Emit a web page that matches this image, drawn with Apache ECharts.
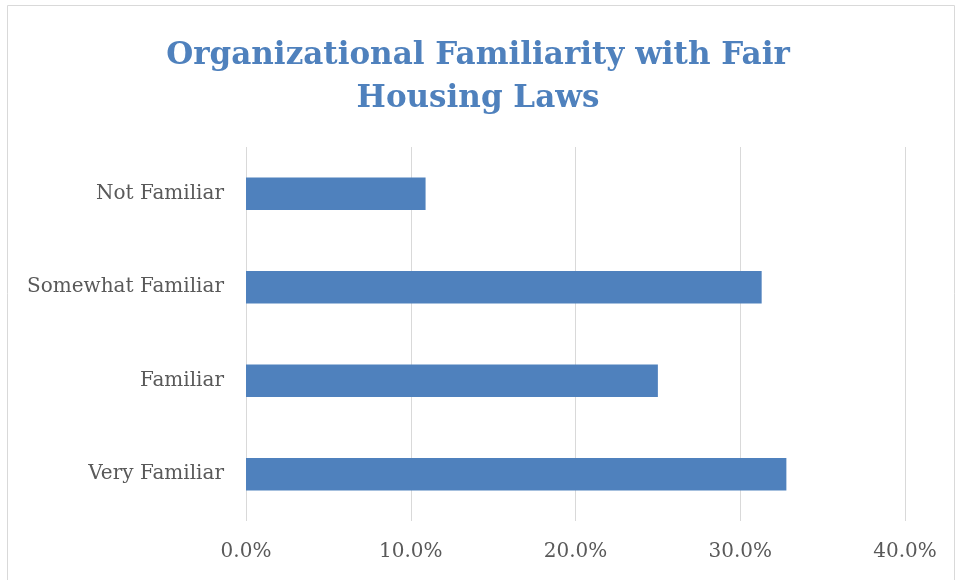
<!DOCTYPE html>
<html>
<head>
<meta charset="utf-8">
<script src="https://cdn.jsdelivr.net/npm/echarts@6/dist/echarts.min.js"></script>
<style>
  html, body { margin: 0; padding: 0; background: #fff; }
  #chart { width: 956px; height: 580px; }
</style>
</head>
<body>
<div id="chart"></div>
<script>
// categories bottom-to-top as ECharts draws a category y axis
const categories = ['Very Familiar', 'Familiar', 'Somewhat Familiar', 'Not Familiar']
const shares = [32.8, 25.0, 31.3, 10.9]
const tickMax = 40

const chart = echarts.init(document.getElementById('chart'))
const serif = 'DejaVu Serif'

chart.setOption({
  animation: false,
  title: {
    text: 'Organizational Familiarity with Fair\nHousing Laws',
    left: 'center',
    top: 29,
    textStyle: {
      fontFamily: serif,
      fontSize: 31,
      fontWeight: 'bold',
      color: '#4F81BD',
      lineHeight: 43
    }
  },
  graphic: [{
    type: 'rect',
    shape: { x: 7.5, y: 5.5, width: 947, height: 600 },
    style: { fill: 'none', stroke: '#D9D9D9', lineWidth: 1 },
    silent: true
  }],
  grid: {
    left: 246,
    right: 51,
    top: 147,
    bottom: 59
  },
  xAxis: {
    type: 'value',
    min: 0,
    max: tickMax,
    interval: 10,
    axisLine: { show: false },
    axisTick: { show: false },
    splitLine: { lineStyle: { color: '#D9D9D9', width: 1 } },
    axisLabel: {
      formatter: v => v.toFixed(1) + '%',
      fontFamily: serif,
      fontSize: 20,
      color: '#595959',
      margin: 21
    }
  },
  yAxis: {
    type: 'category',
    data: categories,
    axisLine: { show: false },
    axisTick: { show: false },
    axisLabel: {
      fontFamily: serif,
      fontSize: 20,
      color: '#595959',
      margin: 22
    }
  },
  series: [{
    type: 'bar',
    data: shares,
    barWidth: '35%',
    itemStyle: { color: '#4F81BD' }
  }]
})
</script>
</body>
</html>
